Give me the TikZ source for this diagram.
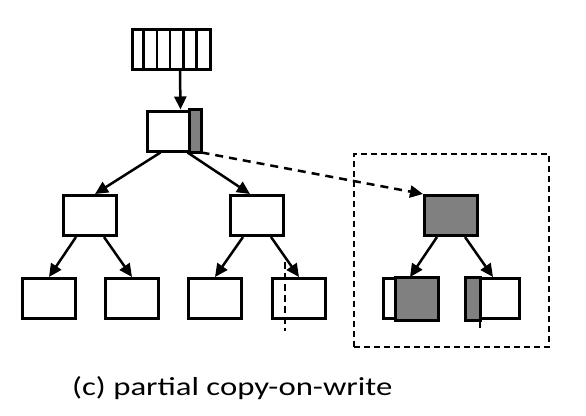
\documentclass[tikz,border=0pt]{standalone}
\usepackage{fontspec}
\setmainfont{Carlito}
\usepackage{tikz}
\usetikzlibrary{calc,arrows.meta}
\definecolor{shade}{gray}{0.5}
\tikzstyle{whitebox}=[rectangle,draw=black,fill=white,line width=3pt,
                      minimum width=53pt,minimum height=40pt,inner sep=0pt]
\tikzstyle{greybox}=[whitebox,fill=shade]
\tikzstyle{link}=[line width=2.5pt,-{Triangle[length=13pt,width=12pt]}]
\tikzstyle{split}=[line width=1.8pt,dash pattern=on 7pt off 4pt]
\newcommand\fork[3]{
    \draw [link] ($(#1.south)+(-14,0)$) -- (#2.north);
    \draw [link] ($(#1.south)+(14,0)$) -- (#3.north);
}
\newcommand\leafrow{298.5}

\begin{document}
\begin{tikzpicture}[x=1pt,y=-1pt]
    \useasboundingbox (0,0) rectangle (586,415);

    % slot array and root
    \node [whitebox,minimum width=78pt] (slots) at (171,49) {};
    \foreach \i in {1,...,5} {
        \draw [line width=2.5pt] ($(slots.north west)+(\i*13.2,0)$) -- ($(slots.south west)+(\i*13.2,0)$);
    }
    \node [whitebox] (root) at (173.5,131) {};
    \draw [line width=3pt,fill=shade] ($(root.north east)+(-12,0)$) rectangle (root.south east);
    \draw [link] ($(slots.south)+(9,0)$) -- ($(root.north)+(7,0)$);

    % original tree
    \node [whitebox] (left) at (90,215.5) {};
    \node [whitebox] (right) at (257,215.5) {};
    \node [whitebox] (leafa) at (49,\leafrow) {};
    \node [whitebox] (leafb) at (132,\leafrow) {};
    \node [whitebox] (leafc) at (215,\leafrow) {};
    \node [whitebox] (leafd) at (299,\leafrow) {};
    \draw [link] ($(root.south)+(-13,0)$) -- ($(left.north)+(5,0)$);
    \draw [link] ($(root.south)+(14,0)$) -- ($(right.north)+(-7,0)$);
    \fork{left}{leafa}{leafb}
    \fork{right}{leafc}{leafd}
    \coordinate (cuttop) at ($(leafd.north west)+(14,-15)$);
    \draw [split] (cuttop) -- ++(0,69);

    % copied part
    \node [draw,line width=2pt,dash pattern=on 6pt off 4pt,minimum width=195pt,
           minimum height=193pt] (frame) at (451,250) {};
    \node [greybox] (copy) at (451,215.5) {};
    \node [whitebox] (copya) at (410,\leafrow) {};
    \node [whitebox] (copyb) at (493,\leafrow) {};
    \draw [line width=3pt,fill=shade] ($(copya.north west)+(13,0)$) rectangle (copya.south east);
    \draw [line width=3pt,fill=shade] (copyb.north west) rectangle ($(copyb.south west)+(15,0)$);
    \fork{copy}{copya}{copyb}
    \coordinate (copycut) at ($(copyb.north west)+(15,0)$);
    \draw [split] (copycut) -- ++(0,54);
    \draw [link,dash pattern=on 8pt off 6pt] (root.south east) -- (copy.north west);

    \node [anchor=base west,font=\fontsize{26}{30}\selectfont,inner sep=0pt] (caption) at (72,395)
        {\scalebox{1.26}[1]{(c) partial copy-on-write}};
\end{tikzpicture}
\end{document}
